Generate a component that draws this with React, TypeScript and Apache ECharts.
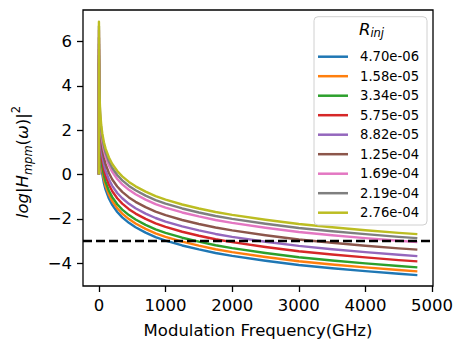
import React, { useEffect, useRef } from "react";
import * as echarts from "echarts";

const freqs = [0, 0.3, 5, 10, 20, 35, 50, 75, 100, 150, 200, 275, 350, 450, 550, 700, 850, 1000, 1250, 1500, 1750, 2000, 2500, 3000, 3500, 4000, 4500, 4780];

const seriesNames = ["4.70e-06", "1.58e-05", "3.34e-05", "5.75e-05", "8.82e-05", "1.25e-04", "1.69e-04", "2.19e-04", "2.76e-04"];

const colors = ["#1f77b4", "#ff7f0e", "#2ca02c", "#d62728", "#9467bd", "#8c564b", "#e377c2", "#7f7f7f", "#bcbd22"];

const v1 = [0, 5.03, 2.32, 1.63, 0.93, 0.38, 0.02, -0.39, -0.68, -1.08, -1.37, -1.69, -1.93, -2.18, -2.38, -2.62, -2.82, -2.98, -3.2, -3.38, -3.54, -3.67, -3.89, -4.08, -4.23, -4.36, -4.48, -4.54];
const v2 = [0, 5.2, 2.49, 1.8, 1.1, 0.55, 0.19, -0.22, -0.51, -0.91, -1.2, -1.52, -1.76, -2.01, -2.21, -2.45, -2.65, -2.81, -3.03, -3.21, -3.37, -3.5, -3.72, -3.91, -4.06, -4.19, -4.31, -4.37];
const v3 = [0, 5.38, 2.67, 1.98, 1.28, 0.73, 0.37, -0.04, -0.33, -0.73, -1.02, -1.34, -1.58, -1.83, -2.03, -2.27, -2.47, -2.63, -2.85, -3.03, -3.19, -3.32, -3.54, -3.73, -3.88, -4.01, -4.13, -4.19];
const v4 = [0, 5.65, 2.94, 2.25, 1.55, 1.0, 0.64, 0.23, -0.06, -0.46, -0.75, -1.07, -1.31, -1.56, -1.76, -2.0, -2.2, -2.36, -2.58, -2.76, -2.92, -3.05, -3.27, -3.46, -3.61, -3.74, -3.86, -3.92];
const v5 = [0, 5.89, 3.18, 2.49, 1.79, 1.24, 0.88, 0.47, 0.18, -0.22, -0.51, -0.83, -1.07, -1.32, -1.52, -1.76, -1.96, -2.12, -2.34, -2.52, -2.68, -2.81, -3.03, -3.22, -3.37, -3.5, -3.62, -3.68];
const v6 = [0, 6.18, 3.47, 2.78, 2.08, 1.53, 1.17, 0.76, 0.47, 0.07, -0.22, -0.54, -0.78, -1.03, -1.23, -1.47, -1.67, -1.83, -2.05, -2.23, -2.39, -2.52, -2.74, -2.93, -3.08, -3.21, -3.33, -3.39];
const v7 = [0, 6.52, 3.81, 3.12, 2.42, 1.87, 1.51, 1.1, 0.81, 0.41, 0.12, -0.2, -0.44, -0.69, -0.89, -1.13, -1.33, -1.49, -1.71, -1.89, -2.05, -2.18, -2.4, -2.59, -2.74, -2.87, -2.99, -3.05];
const v8 = [0, 6.7, 3.99, 3.3, 2.6, 2.05, 1.69, 1.28, 0.99, 0.59, 0.3, -0.02, -0.26, -0.51, -0.71, -0.95, -1.15, -1.31, -1.53, -1.71, -1.87, -2.0, -2.22, -2.41, -2.56, -2.69, -2.81, -2.87];
const v9 = [0, 6.9, 4.17, 3.48, 2.78, 2.23, 1.87, 1.46, 1.17, 0.77, 0.48, 0.16, -0.08, -0.33, -0.53, -0.77, -0.97, -1.13, -1.35, -1.53, -1.69, -1.82, -2.04, -2.23, -2.38, -2.51, -2.63, -2.69];

const allValues = [v1, v2, v3, v4, v5, v6, v7, v8, v9];

const thresholdY = -3;
const xTicks = [0, 1000, 2000, 3000, 4000, 5000];
const yTicks = [-4, -2, 0, 2, 4, 6];
const xMin = -239;
const xMax = 5015;
const yMin = -5.03;
const yMax = 7.43;

const FONT = "DejaVu Sans";

export default function App() {
  const ref = useRef<HTMLDivElement>(null);
  useEffect(() => {
    if (!ref.current) return;
    const chart = echarts.init(ref.current, undefined, { renderer: "svg" });
    const fmt = (v: number) => (v < 0 ? "\u2212" + Math.abs(v) : String(v));
    const lineSeries = allValues.map((vals, i) => ({
      name: seriesNames[i],
      type: "line",
      data: freqs.map((f, j) => [f, vals[j]]),
      symbol: "none",
      lineStyle: { color: colors[i], width: 2.4, join: "round" },
      itemStyle: { color: colors[i] },
      z: 2,
    }));
    chart.setOption({
      animation: false,
      grid: {
        left: 83,
        top: 10,
        right: 21,
        bottom: 57,
        show: true,
        borderColor: "#000",
        borderWidth: 1.3,
        backgroundColor: "transparent",
      },
      xAxis: {
        type: "value",
        min: xMin,
        max: xMax,
        axisLine: { show: false, onZero: false },
        splitLine: { show: false },
        axisTick: { show: true, customValues: xTicks, length: 6, lineStyle: { color: "#000", width: 1.3 } },
        axisLabel: { customValues: xTicks, formatter: fmt, fontSize: 16.5, fontFamily: FONT, color: "#000", margin: 11 },
        name: "Modulation Frequency(GHz)",
        nameLocation: "middle",
        nameGap: 36,
        nameTextStyle: { fontSize: 16.5, fontFamily: FONT, color: "#000" },
      },
      yAxis: {
        type: "value",
        min: yMin,
        max: yMax,
        axisLine: { show: false, onZero: false },
        splitLine: { show: false },
        axisTick: { show: true, customValues: yTicks, length: 6, lineStyle: { color: "#000", width: 1.3 } },
        axisLabel: { customValues: yTicks, formatter: fmt, fontSize: 16.5, fontFamily: FONT, color: "#000", margin: 11 },
      },
      legend: {
        data: seriesNames,
        orient: "vertical",
        left: 318,
        top: 49.7,
        padding: 0,
        icon: "rect",
        itemWidth: 30,
        itemHeight: 2.5,
        itemGap: 5.5,
        textStyle: { fontSize: 13.2, fontFamily: FONT, color: "#000", lineHeight: 14, padding: [0, 0, 0, 7] },
        z: 5,
      },
      graphic: [
        {
          type: "rect",
          shape: { x: 314, y: 16.7, width: 113, height: 208.3, r: 4 },
          style: { fill: "rgba(255,255,255,0.8)", stroke: "#d0d0d0", lineWidth: 1 },
          z: 4,
        },
        {
          type: "text",
          x: 371.5,
          y: 30,
          style: {
            text: "{r|R}{s|inj}",
            align: "center",
            verticalAlign: "middle",
            rich: {
              r: { fontSize: 16.5, fontStyle: "italic", fontFamily: FONT, fill: "#000", lineHeight: 18, verticalAlign: "top" },
              s: { fontSize: 11.5, fontStyle: "italic", fontFamily: FONT, fill: "#000", lineHeight: 12, verticalAlign: "bottom" },
            },
          },
          z: 6,
        },
        {
          type: "text",
          x: 22,
          y: 162,
          rotation: Math.PI / 2,
          style: {
            text: "{i|log}{n||}{i|H}{s|mpm}{n|(}{i|ω}{n|)|}{p|2}",
            align: "center",
            verticalAlign: "middle",
            rich: {
              i: { fontSize: 16.5, fontStyle: "italic", fontFamily: FONT, fill: "#000", lineHeight: 24, verticalAlign: "middle" },
              n: { fontSize: 16.5, fontFamily: FONT, fill: "#000", lineHeight: 24, verticalAlign: "middle" },
              s: { fontSize: 11.5, fontStyle: "italic", fontFamily: FONT, fill: "#000", lineHeight: 12, verticalAlign: "bottom" },
              p: { fontSize: 11.5, fontFamily: FONT, fill: "#000", lineHeight: 12, verticalAlign: "top" },
            },
          },
          z: 6,
        },
      ],
      series: [
        ...lineSeries,
        {
          name: "threshold",
          type: "line",
          data: [[xMin, thresholdY], [xMax, thresholdY]],
          symbol: "none",
          lineStyle: { color: "#000", width: 2.4, type: [9, 4] },
          z: 3,
          silent: true,
        },
      ],
    });
    return () => chart.dispose();
  }, []);
  return <div ref={ref} style={{ position: "absolute", left: 0, top: 0, width: 456, height: 344 }} />;
}
